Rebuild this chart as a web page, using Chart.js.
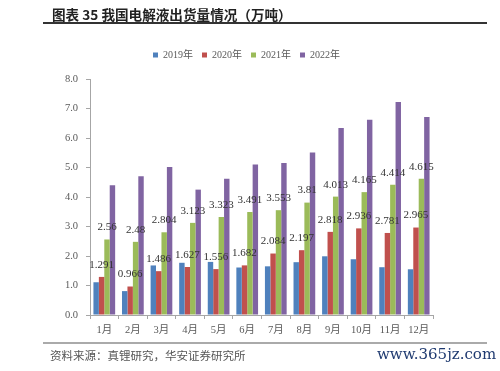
<!DOCTYPE html>
<html lang="zh">
  <head>
    <meta charset="UTF-8" />
    <title>我国电解液出货量情况</title>
    <script src="https://cdn.jsdelivr.net/npm/chart.js"></script>
    <style>
      body { margin: 0; background: #fff; }
      #wrap { position: relative; width: 500px; height: 371px; }
      #chart { position: absolute; left: 0; top: 0; }
      .title {
        position: absolute; left: 52px; top: 4px;
        font: bold 13.6px "Noto Sans CJK SC", sans-serif; color: #222;
        white-space: nowrap;
      }
      .rule-top { position: absolute; left: 43px; top: 22px; width: 444px; height: 1.5px; background: #333; }
      .rule-bottom { position: absolute; left: 43px; top: 342px; width: 444px; height: 2px; background: #aaa; }
      .source {
        position: absolute; left: 50px; top: 347px;
        font: 11.5px "Noto Sans CJK SC", sans-serif; color: #555; white-space: nowrap;
      }
      .mark {
        position: absolute; left: 377px; top: 345px;
        font: 15px "DejaVu Serif", serif; color: #1f3a70; white-space: nowrap;
      }
    </style>
  </head>
  <body>
    <div id="wrap">
      <canvas id="chart" width="500" height="371"></canvas>
      <div class="title">图表 35 我国电解液出货量情况（万吨）</div>
      <div class="rule-top"></div>
      <div class="rule-bottom"></div>
      <div class="source">资料来源：真锂研究，华安证券研究所</div>
      <div class="mark">www.365jz.com</div>
    </div>
    <script>
      const months = ["1月", "2月", "3月", "4月", "5月", "6月", "7月", "8月", "9月", "10月", "11月", "12月"];
      const y2019 = [1.11, 0.81, 1.68, 1.77, 1.8, 1.61, 1.65, 1.79, 1.99, 1.89, 1.62, 1.55];
      const y2020 = [1.291, 0.966, 1.486, 1.627, 1.556, 1.682, 2.084, 2.197, 2.818, 2.936, 2.781, 2.965];
      const y2021 = [2.56, 2.48, 2.804, 3.123, 3.323, 3.491, 3.553, 3.81, 4.013, 4.165, 4.414, 4.615];
      const y2022 = [4.4, 4.7, 5.02, 4.25, 4.62, 5.1, 5.15, 5.51, 6.34, 6.62, 7.22, 6.71];
      const yTicks = [0, 1, 2, 3, 4, 5, 6, 7, 8];

      const serif = "'Liberation Serif', 'Noto Sans CJK SC', serif";
      const grey = "#595959";

      // value labels for 2020 and 2021 series, drawn above their bars
      const valueLabels = {
        id: "valueLabels",
        afterDatasetsDraw(chart) {
          const ctx = chart.ctx;
          ctx.save();
          ctx.font = "11px " + serif;
          ctx.fillStyle = "#333";
          ctx.textAlign = "center";
          ctx.textBaseline = "middle";
          [1, 2].forEach((di) => {
            const meta = chart.getDatasetMeta(di);
            const data = chart.data.datasets[di].data;
            meta.data.forEach((bar, i) => {
              ctx.fillText(String(data[i]), bar.x, bar.y - 12);
            });
          });
          ctx.restore();
        },
      };

      // leave a bit more room between the legend and the plot
      const legendGap = {
        id: "legendGap",
        beforeUpdate(chart) {
          const lg = chart.legend;
          if (lg && !lg._gapPatched) {
            const fit = lg.fit.bind(lg);
            lg.fit = function () {
              fit();
              this.height += 9;
            };
            lg._gapPatched = true;
          }
        },
      };

      new Chart(document.getElementById("chart"), {
        type: "bar",
        data: {
          labels: months,
          datasets: [
            { label: "2019年", data: y2019, backgroundColor: "#4f81bd" },
            { label: "2020年", data: y2020, backgroundColor: "#c0504d" },
            { label: "2021年", data: y2021, backgroundColor: "#9bbb59" },
            { label: "2022年", data: y2022, backgroundColor: "#8064a2" },
          ],
        },
        options: {
          responsive: false,
          animation: false,
          datasets: {
            bar: { categoryPercentage: 0.76, barPercentage: 1.0, borderWidth: 0 },
          },
          layout: { padding: { left: 60, right: 67, top: 41, bottom: 32 } },
          plugins: {
            legend: {
              position: "top",
              labels: {
                boxWidth: 5,
                boxHeight: 5,
                padding: 9,
                color: grey,
                font: { family: serif, size: 10 },
              },
            },
            tooltip: { enabled: false },
          },
          scales: {
            x: {
              afterFit: (s) => { s.height = 24; },
              border: { color: "#a6a6a6" },
              grid: { drawOnChartArea: false, tickLength: 4, color: "#a6a6a6" },
              ticks: { color: grey, padding: 5, font: { family: serif, size: 10.5 } },
            },
            y: {
              min: 0,
              max: 8,
              afterFit: (s) => { s.width = 30; },
              afterBuildTicks: (s) => { s.ticks = yTicks.map((v) => ({ value: v })); },
              border: { color: "#a6a6a6" },
              grid: { drawOnChartArea: false, tickLength: 4, color: "#a6a6a6" },
              ticks: {
                color: grey,
                padding: 8,
                font: { family: serif, size: 10.5 },
                callback: (v) => Number(v).toFixed(1),
              },
            },
          },
        },
        plugins: [valueLabels, legendGap],
      });
    </script>
  </body>
</html>
